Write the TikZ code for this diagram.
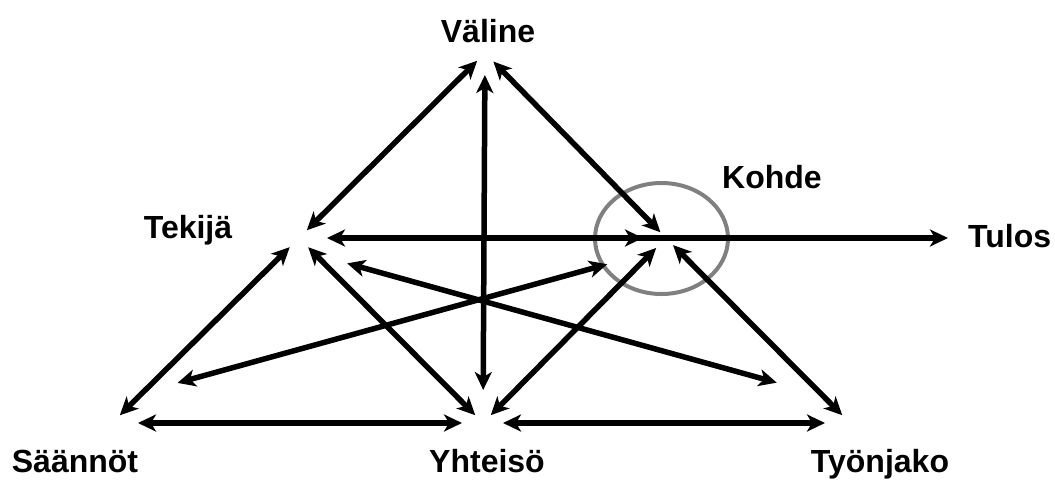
\documentclass[tikz,border=0pt]{standalone}
\usepackage{fontspec}
\setmainfont{Liberation Sans}
\usepackage{tikz}
\usetikzlibrary{arrows.meta}
\definecolor{ringgray}{RGB}{128,128,128}

\begin{document}
\begin{tikzpicture}[
    x=1pt, y=-1pt,
    >={Stealth[length=18pt, width=17pt, inset=5pt]},
    term/.style={inner sep=0pt, font=\fontsize{32}{38}\selectfont\bfseries},
    link/.style={<->, line width=5.5pt},
    ring/.style={draw=ringgray, line width=4pt}
  ]
  \useasboundingbox (0,0) rectangle (1055,480);

  % corners of the activity system
  \coordinate (vl) at (485,53);
  \coordinate (tk) at (299,238);
  \coordinate (kh) at (666,238);
  \coordinate (sn) at (112,423);
  \coordinate (yh) at (483,423);
  \coordinate (tj) at (850,423);
  % ends of the two crossing diagonals
  \coordinate (tk2) at (299,250);
  \coordinate (tj2) at (850,403);
  \coordinate (sn2) at (112,401);
  \coordinate (kh2) at (666,248);

  \node[term, anchor=base] (valine)   at (488,42)  {Väline};
  \node[term, anchor=base] (tekija)   at (188,238) {Tekijä};
  \node[term, anchor=base] (kohde)    at (772,188) {Kohde};
  \node[term, anchor=base west] (tulos) at (968,247) {Tulos};
  \node[term, anchor=base] (saannot)  at (75,472)  {Säännöt};
  \node[term, anchor=base] (yhteiso)  at (487,472) {Yhteisö};
  \node[term, anchor=base] (tyonjako) at (880,472) {Työnjako};

  \draw[ring] (661.5,238.5) ellipse [x radius=66.5pt, y radius=55.5pt];

  \draw[link, shorten <=11pt, shorten >=11pt] (vl) -- (tk);
  \draw[link, shorten <=12pt, shorten >=8pt]  (vl) -- (kh);
  \draw[link, shorten <=22pt, shorten >=33pt] (vl) -- (yh);
  \draw[link, ->, shorten <=40pt, shorten >=20pt] (tk) -- (tk -| tulos.west);
  \draw[link, shorten <=28pt, shorten >=23pt] (tk) -- (kh);
  \draw[link, shorten <=13pt, shorten >=11pt] (tk) -- (sn);
  \draw[link, shorten <=13pt, shorten >=11pt] (tk) -- (yh);
  \draw[link, shorten <=50pt, shorten >=76pt] (tk2) -- (tj2);
  \draw[link, shorten <=68pt, shorten >=61pt] (sn2) -- (kh2);
  \draw[link, shorten <=11pt, shorten >=14pt] (yh) -- (kh);
  \draw[link, shorten <=11pt, shorten >=10pt] (tj) -- (kh);
  \draw[link, shorten <=26pt, shorten >=21pt] (sn) -- (yh);
  \draw[link, shorten <=20pt, shorten >=25pt] (yh) -- (tj);
\end{tikzpicture}
\end{document}
